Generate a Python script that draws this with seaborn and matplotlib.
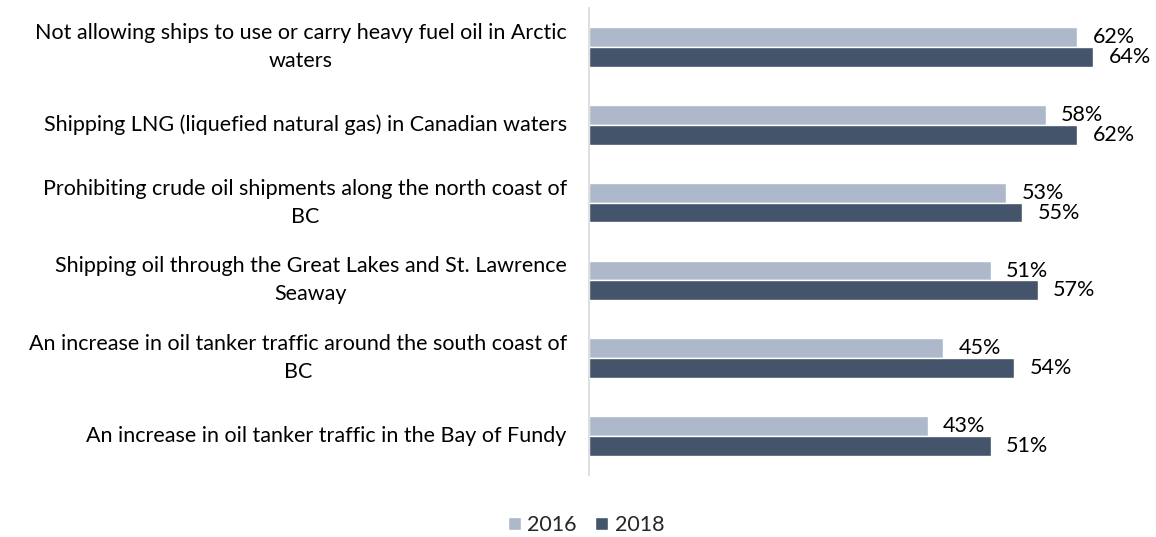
import pandas as pd
import matplotlib
matplotlib.use("Agg")
import matplotlib.pyplot as plt
import seaborn as sns
from matplotlib.patches import Patch

# Data
categories = [
    "Not allowing ships to use or carry heavy fuel oil in Arctic\nwaters",
    "Shipping LNG (liquefied natural gas) in Canadian waters",
    "Prohibiting crude oil shipments along the north coast of\nBC",
    "Shipping oil through the Great Lakes and St. Lawrence\nSeaway",
    "An increase in oil tanker traffic around the south coast of\nBC",
    "An increase in oil tanker traffic in the Bay of Fundy",
]
years = ["2016", "2018"]
values_2016 = [62, 58, 53, 51, 45, 43]
values_2018 = [64, 62, 55, 57, 54, 51]
colors = {"2016": "#ADB9CA", "2018": "#44546A"}

df = pd.DataFrame({
    "Category": categories * 2,
    "Year": [years[0]] * len(categories) + [years[1]] * len(categories),
    "Value": values_2016 + values_2018,
})

sns.set_style("white")
plt.rcParams["font.family"] = ["Lato", "DejaVu Sans"]
text_color = "#000000"
fs = 15.5

fig = plt.figure(figsize=(11.56, 5.37), dpi=100)
ax = fig.add_axes([0.5095, 0.1155, 0.477, 0.8695])

sns.barplot(data=df, y="Category", x="Value", hue="Year", orient="h",
            palette=colors, width=0.51, saturation=1, legend=False, ax=ax)

ax.set_xlim(0, 70)
ax.set_xlabel("")
ax.set_ylabel("")
ax.set_xticks([])
ax.tick_params(axis="y", length=0, pad=16, labelsize=fs, labelcolor=text_color)
for lbl in ax.get_yticklabels():
    lbl.set_multialignment("center")
    lbl.set_linespacing(1.5)
    lbl.set_verticalalignment("center")

for side in ["top", "right", "bottom"]:
    ax.spines[side].set_visible(False)
ax.spines["left"].set_color("#D9D9D9")
ax.spines["left"].set_linewidth(1.2)

# value labels
for container in ax.containers:
    ax.bar_label(container, labels=[f"{v:.0f}%" for v in container.datavalues],
                 padding=11, fontsize=fs, color=text_color)

handles = [Patch(facecolor=colors[y], label=y) for y in years]
fig.legend(handles=handles, loc="center", bbox_to_anchor=(0.507, 0.022), ncol=2,
           frameon=False, fontsize=fs, handlelength=0.6, handleheight=0.6,
           handletextpad=0.3, columnspacing=0.85)

fig.savefig("out.png", dpi=100)
